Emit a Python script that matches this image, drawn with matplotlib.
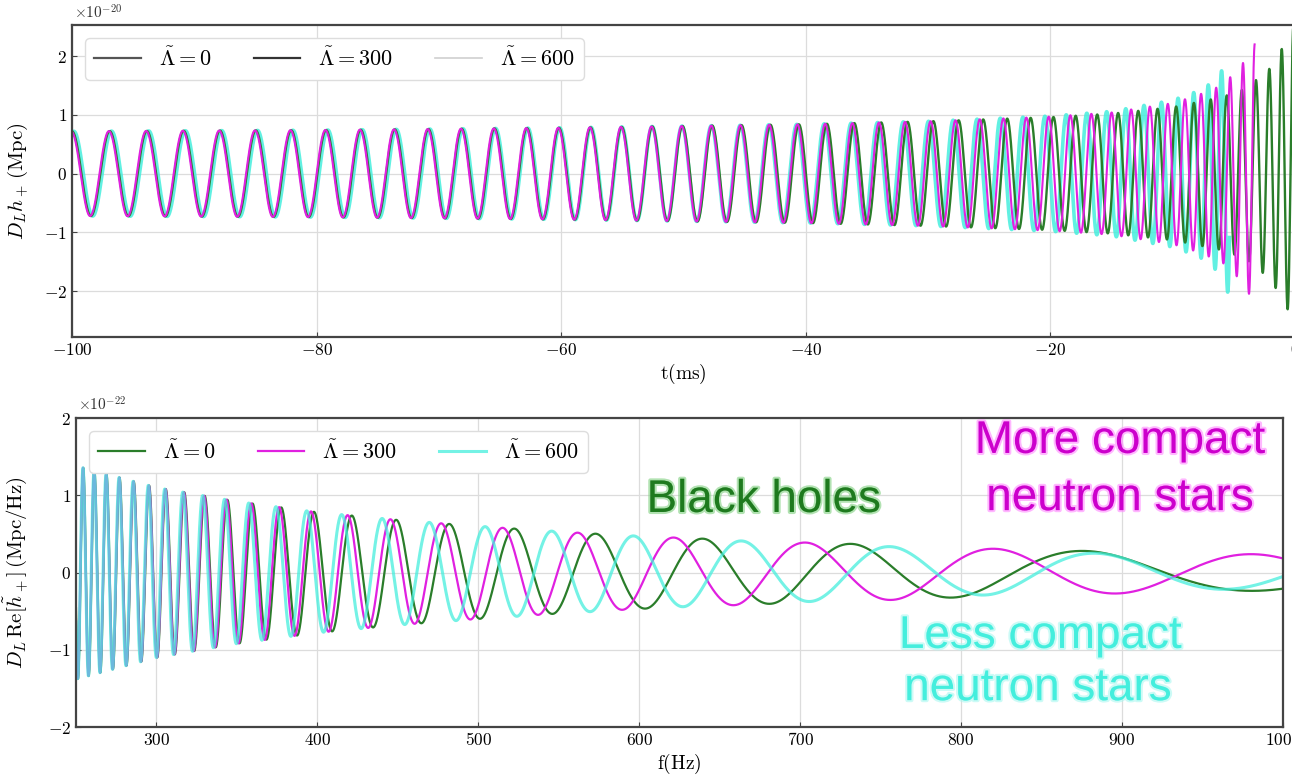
import numpy as np
import matplotlib
matplotlib.use('Agg')
import matplotlib.pyplot as plt
from matplotlib.lines import Line2D
from matplotlib.ticker import FuncFormatter, MultipleLocator
import matplotlib.patheffects as pe

plt.rcParams['mathtext.fontset'] = 'cm'
plt.rcParams['font.family'] = 'DejaVu Serif'

# ---- top panel: time domain, D_L h_+ in units of 1e-20 Mpc ----
# knots: gw period (ms) and envelope, per curve
t_bh = [-100, -80, -60, -40, -30, -20, -15, -10, -6, -4, -2, -1, 0]
period_bh = [3.1, 2.85, 2.6, 2.3, 2.1, 1.85, 1.7, 1.5, 1.3, 1.17, 1.05, 0.97, 0.92]
amp_bh = [0.72, 0.74, 0.78, 0.84, 0.89, 0.96, 1.02, 1.13, 1.3, 1.45, 1.8, 2.15, 2.55]

t_300 = [-100, -80, -60, -40, -30, -20, -15, -10, -8, -6, -4.5, -3.3]
period_300 = [3.1, 2.85, 2.6, 2.28, 2.07, 1.8, 1.63, 1.42, 1.3, 1.16, 1.02, 0.92]
amp_300 = [0.72, 0.74, 0.78, 0.84, 0.89, 0.97, 1.04, 1.2, 1.33, 1.5, 1.8, 2.2]

t_600 = [-100, -80, -60, -40, -30, -20, -15, -10, -8, -7, -6, -5.35]
period_600 = [3.1, 2.85, 2.58, 2.26, 2.04, 1.76, 1.58, 1.35, 1.22, 1.13, 1.03, 0.95]
amp_600 = [0.72, 0.74, 0.78, 0.84, 0.89, 0.98, 1.06, 1.25, 1.4, 1.52, 1.75, 2.1]

start_phase = [0.0, 0.02, -0.05]   # cycles at t = -100 ms

# ---- bottom panel: frequency domain, D_L Re[h~_+] in units of 1e-22 ----
f_knots = [250, 300, 350, 400, 450, 500, 550, 600, 650, 700, 750, 800, 850, 900, 950, 1000]
fperiod_bh = [6.3, 10.3, 15.4, 22, 30, 40, 51, 65, 80, 98, 120, 145, 172, 200, 225, 250]
fperiod_300 = [6.3, 10.3, 15.2, 21.6, 29.5, 39, 49, 62, 78, 96, 115, 132, 150, 163, 172, 180]
fperiod_600 = [6.3, 10.2, 15.0, 21.1, 28.5, 37, 46, 58, 74, 90, 106, 122, 140, 155, 166, 175]
famp_bh = [1.38, 1.1, 0.92, 0.78, 0.68, 0.6, 0.53, 0.47, 0.43, 0.39, 0.36, 0.32, 0.29, 0.27, 0.25, 0.23]
famp_300 = [1.38, 1.1, 0.92, 0.78, 0.68, 0.6, 0.53, 0.47, 0.43, 0.39, 0.36, 0.32, 0.29, 0.27, 0.25, 0.23]
famp_600 = [1.38, 1.1, 0.92, 0.78, 0.68, 0.6, 0.53, 0.47, 0.42, 0.38, 0.34, 0.3, 0.27, 0.24, 0.22, 0.21]
peak_at = [482, 477, 469.6]   # a maximum for each curve

labels = [r'$\tilde{\Lambda}=0$', r'$\tilde{\Lambda}=300$', r'$\tilde{\Lambda}=600$']
colors = ['#2a7d2a', '#e020e0', '#45eedd']


def chirp(tk, pk, ak, ph0):
    t = np.linspace(tk[0], tk[-1], 20000)
    rate = 1.0 / np.interp(t, tk, pk)
    cyc = np.concatenate([[0], np.cumsum(0.5 * (rate[1:] + rate[:-1]) * np.diff(t))])
    return t, np.interp(t, tk, ak) * np.cos(2 * np.pi * (cyc + ph0))


def fchirp(pk, ak, f0):
    f = np.linspace(f_knots[0], f_knots[-1], 20000)
    rate = 1.0 / np.interp(f, f_knots, pk)
    cyc = np.concatenate([[0], np.cumsum(0.5 * (rate[1:] + rate[:-1]) * np.diff(f))])
    cyc -= np.interp(f0, f, cyc)
    return f, np.interp(f, f_knots, ak) * np.cos(2 * np.pi * cyc)


fig = plt.figure(figsize=(12.92, 7.75), dpi=100)
ax1 = fig.add_axes([0.0557, 0.5652, 0.9466, 0.4026])
ax2 = fig.add_axes([0.0588, 0.0619, 0.9342, 0.3987])

fmt = FuncFormatter(lambda v, p: r'$%g$' % v)
for ax in (ax1, ax2):
    ax.grid(True, color='#dcdcdc', lw=0.9)
    ax.set_axisbelow(True)
    for s in ax.spines.values():
        s.set_color('#444444')
        s.set_linewidth(1.6)
    ax.tick_params(direction='in', labelsize=12.5, color='#444444')
    ax.xaxis.set_major_formatter(fmt)
    ax.yaxis.set_major_formatter(fmt)
    ax.yaxis.set_major_locator(MultipleLocator(1))

leg_kw = dict(loc='upper left', ncol=3, fontsize=16, columnspacing=1.9, handlelength=2.1,
              handletextpad=0.8, borderaxespad=0.6, framealpha=1, edgecolor='#dddddd')

# top panel
tdata = [(t_bh, period_bh, amp_bh), (t_300, period_300, amp_300), (t_600, period_600, amp_600)]
lws = [1.7, 1.5, 2.6]
for i in [2, 0, 1]:
    t, h = chirp(*tdata[i], start_phase[i])
    ax1.plot(t, h, color=colors[i], lw=lws[i], alpha=0.85 if i == 2 else 1)
ax1.set_xlim(-100, 0)
ax1.set_ylim(-2.78, 2.53)
ax1.xaxis.set_major_locator(MultipleLocator(20))
ax1.set_xlabel(r'$\mathrm{t(ms)}$', fontsize=14, labelpad=2)
ax1.set_ylabel(r'$D_L h_+\,(\mathrm{Mpc})$', fontsize=15)
ax1.yaxis.set_label_coords(-0.034, 0.5)
fig.text(0.057, 0.984, r'$\times10^{-20}$', fontsize=11, va='center', color='#333333')
gray = [Line2D([], [], color='#555555', lw=1.6), Line2D([], [], color='#333333', lw=1.6),
        Line2D([], [], color='#cfcfcf', lw=1.2)]
ax1.legend(gray, labels, **leg_kw)

# bottom panel
fdata = [(fperiod_bh, famp_bh), (fperiod_300, famp_300), (fperiod_600, famp_600)]
flws = [1.6, 1.6, 2.2]
for i in range(3):
    f, h = fchirp(*fdata[i], peak_at[i])
    ax2.plot(f, h, color=colors[i], lw=flws[i], alpha=0.75 if i == 2 else 1, label=labels[i])
ax2.set_xlim(250, 1000)
ax2.set_ylim(-2, 2)
ax2.xaxis.set_major_locator(MultipleLocator(100))
ax2.set_xlabel(r'$\mathrm{f(Hz)}$', fontsize=14, labelpad=2)
ax2.set_ylabel(r'$D_L\,\mathrm{Re}[\tilde{h}_+]\,(\mathrm{Mpc/Hz})$', fontsize=15)
ax2.yaxis.set_label_coords(-0.038, 0.5)
fig.text(0.060, 0.478, r'$\times10^{-22}$', fontsize=11, va='center', color='#333333')
ax2.legend(**leg_kw)

notes = [('Black holes', 0.570, 0.696, '#1e7a1e', '#7fcf7f'),
         ('More compact', 0.865, 0.887, '#cc00cc', '#ff88ff'),
         ('neutron stars', 0.865, 0.702, '#cc00cc', '#ff88ff'),
         ('Less compact', 0.799, 0.256, '#44eedd', '#aaf8f0'),
         ('neutron stars', 0.797, 0.087, '#44eedd', '#aaf8f0')]
for txt, x, y, c, glow in notes:
    ax2.text(x, y, txt, transform=ax2.transAxes, ha='center', va='baseline', fontsize=33,
             family='Liberation Sans', color=c,
             path_effects=[pe.withStroke(linewidth=3, foreground=glow, alpha=0.6)])

fig.savefig('out.png', dpi=100)
